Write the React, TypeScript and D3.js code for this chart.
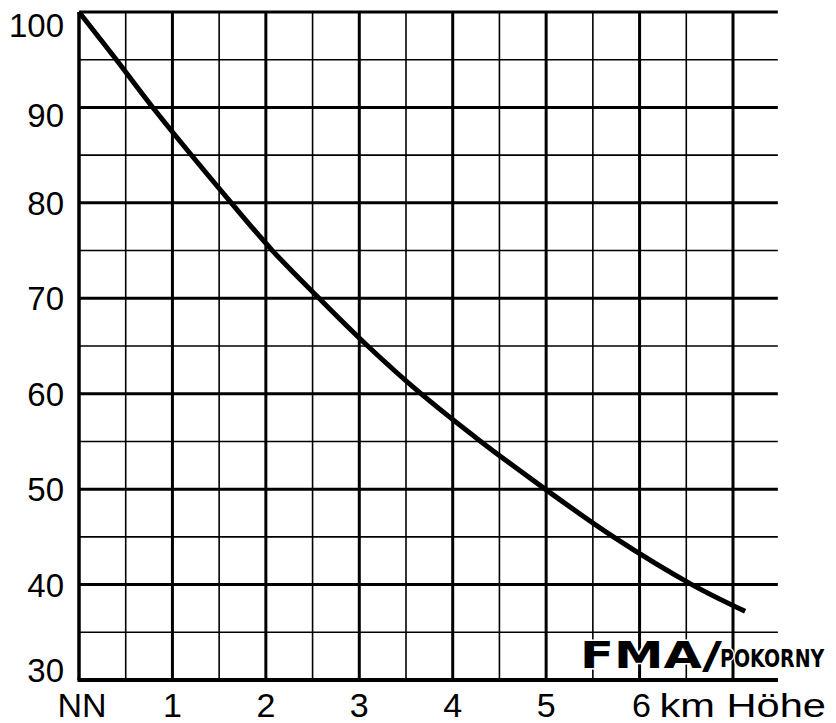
import React from 'react';
import * as d3 from 'd3';

// Höhe in km, Luftdruck in %
const heights = [0, 0.4, 0.79, 1.63, 2.07, 2.57, 3.09, 3.66, 4.3, 4.99, 5.72, 6.56, 7.13];
const pressures = [100, 95, 90, 80, 75, 70, 65, 60, 55, 50, 45, 40, 37.2];

const yTicks = [30, 40, 50, 60, 70, 80, 90, 100];
const xTickLabels = ['NN', '1', '2', '3', '4', '5'];
const unitLabel = 'km Höhe';

const width = 836;
const height = 723;

export default function App() {
  const x = d3.scaleLinear().domain([0, 7]).range([79, 733]);
  const y = d3.scaleLinear().domain([30, 100]).range([680, 12]);
  const gridRight = x(7.48);

  const hLines = d3.range(30, 100.1, 5);
  const vLines = d3.range(0, 7.01, 0.5);

  const points = heights.map((h, i) => ({ h, p: pressures[i] }));
  const line = d3
    .line<{ h: number; p: number }>()
    .x((d) => x(d.h))
    .y((d) => y(d.p))
    .curve(d3.curveCatmullRom.alpha(0.5));

  const font = '"Liberation Sans", Arial, sans-serif';

  return (
    <div>
      <style>{`body{margin:0;background:#fff}`}</style>
      <svg width={width} height={height} style={{ display: 'block' }}>
        <rect width={width} height={height} fill="#fff" />

        {/* horizontal grid */}
        {hLines.map((v) => (
          <line
            key={'h' + v}
            x1={x(0)}
            x2={gridRight}
            y1={y(v)}
            y2={y(v)}
            stroke="#000"
            strokeWidth={v % 10 === 0 ? 3 : 1.6}
          />
        ))}

        {/* vertical grid */}
        {vLines.map((v) => (
          <line
            key={'v' + v}
            x1={x(v)}
            x2={x(v)}
            y1={y(100)}
            y2={y(30)}
            stroke="#000"
            strokeWidth={v === 0 ? 3.5 : v % 1 === 0 ? 3 : 1.6}
          />
        ))}

        {/* baseline */}
        <line x1={x(0) - 1.5} x2={gridRight} y1={y(30)} y2={y(30)} stroke="#000" strokeWidth={4} />

        {/* curve */}
        <path d={line(points) || ''} fill="none" stroke="#000" strokeWidth={5} />

        {/* y labels */}
        {yTicks.map((v) => {
          let ty = y(v) + 12;
          if (v === 100) ty = y(v) + 25;
          if (v === 90) ty = y(v) + 20;
          if (v === 30) ty = y(v) + 2;
          return (
            <text key={'yl' + v} x={64} y={ty} textAnchor="end" fontFamily={font} fontSize={33} fill="#000">
              {v}
            </text>
          );
        })}

        {/* x labels */}
        {xTickLabels.map((t, i) => (
          <text
            key={'xl' + t}
            x={x(i) + (i === 0 ? 3 : 0)}
            y={717}
            textAnchor="middle"
            fontFamily={font}
            fontSize={34}
            fill="#000"
          >
            {t}
          </text>
        ))}
        <text x={x(6) + 2} y={717} textAnchor="middle" fontFamily={font} fontSize={34} fill="#000">
          6
        </text>
        <text x={x(6) + 20} y={717} fontFamily={font} fontSize={34} fill="#000" textLength={806 - x(6)} lengthAdjust="spacingAndGlyphs">
          {unitLabel}
        </text>

        {/* FMA/POKORNY */}
        <g fontFamily='"DejaVu Sans", sans-serif' fontWeight="bold" fill="#000" stroke="#fff" strokeWidth={3} style={{ paintOrder: 'stroke' }}>
          <text x={580} y={668} fontSize={38} textLength={122} lengthAdjust="spacingAndGlyphs">
            FMA
          </text>
          <text x={702} y={668} fontSize={38} textLength={20} lengthAdjust="spacingAndGlyphs">
            /
          </text>
          <text transform="translate(720,667) scale(0.76,1)" x={0} y={0} fontSize={25}>
            POKORNY
          </text>
        </g>
      </svg>
    </div>
  );
}
